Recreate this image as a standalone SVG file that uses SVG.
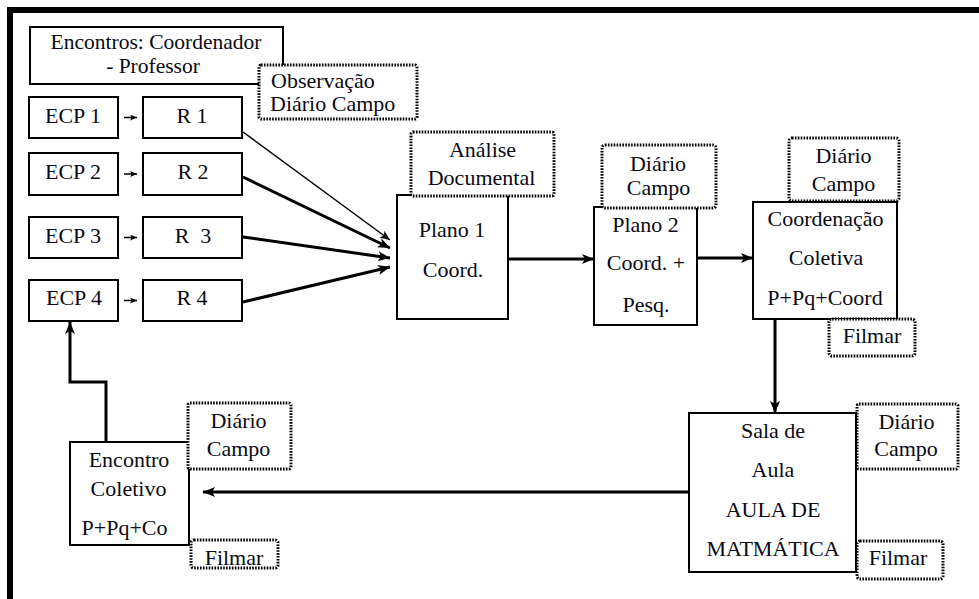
<svg xmlns="http://www.w3.org/2000/svg" width="979" height="599" viewBox="0 0 979 599">
<style>
.box{fill:#fff;stroke:#000;stroke-width:2}
.dot{fill:#fff;stroke:#000;stroke-width:3;stroke-dasharray:1.6 1.3}
.thick{stroke:#000;stroke-width:3;fill:none}
.thin{stroke:#000;stroke-width:1.5;fill:none}
</style>
<defs>
<marker id="big" viewBox="0 0 12 10" refX="12" refY="5" markerWidth="12" markerHeight="10" markerUnits="userSpaceOnUse" orient="auto">
<path d="M0,0 L12,5 L0,10 L3,5 z" fill="#000"/>
</marker>
<marker id="mid" viewBox="0 0 12 10" refX="12" refY="5" markerWidth="10" markerHeight="9" markerUnits="userSpaceOnUse" orient="auto">
<path d="M0,0 L12,5 L0,10 L3,5 z" fill="#000"/>
</marker>
<marker id="sm" viewBox="0 0 12 10" refX="12" refY="5" markerWidth="7" markerHeight="6" markerUnits="userSpaceOnUse" orient="auto">
<path d="M0,0 L12,5 L0,10 L3,5 z" fill="#000"/>
</marker>
</defs>
<rect width="979" height="599" fill="#fff"/>
<path d="M10,599 V10 H979" fill="none" stroke="#000" stroke-width="6"/>

<g font-family="Liberation Serif, Times New Roman, serif" font-size="22" fill="#0a0a14" text-anchor="middle">
<g id="encontros">
<rect class="box" x="30" y="27" width="253" height="57"/>
<text x="156" y="49" font-size="21.5">Encontros: Coordenador</text>
<text x="153" y="73" font-size="21.5">- Professor</text>
</g>
<g id="observacao">
<rect class="dot" x="259" y="65" width="158" height="54" rx="2"/>
<text x="271" y="88" text-anchor="start">Observação</text>
<text x="270" y="111" text-anchor="start">Diário Campo</text>
</g>

<g id="ecp1"><rect class="box" x="29" y="97" width="89" height="41"/><text x="73" y="123">ECP 1</text></g>
<g id="ecp2"><rect class="box" x="29" y="153" width="89" height="42"/><text x="73" y="179">ECP 2</text></g>
<g id="ecp3"><rect class="box" x="29" y="217" width="89" height="41"/><text x="73" y="243">ECP 3</text></g>
<g id="ecp4"><rect class="box" x="29" y="280" width="89" height="41"/><text x="74" y="305">ECP 4</text></g>

<g id="r1"><rect class="box" x="143" y="97" width="99" height="41"/><text x="192" y="123">R 1</text></g>
<g id="r2"><rect class="box" x="143" y="153" width="99" height="42"/><text x="193" y="179">R 2</text></g>
<g id="r3"><rect class="box" x="143" y="217" width="99" height="41"/><text x="193" y="243" xml:space="preserve">R  3</text></g>
<g id="r4"><rect class="box" x="143" y="280" width="99" height="41"/><text x="192" y="305">R 4</text></g>

<g id="plano1">
<rect class="box" x="397" y="195" width="111" height="124"/>
<text x="452" y="237">Plano 1</text>
<text x="453" y="277">Coord.</text>
</g>
<g id="analise">
<rect class="dot" x="411" y="132" width="143" height="64" rx="2"/>
<text x="482.5" y="157">Análise</text>
<text x="481.5" y="185">Documental</text>
</g>

<g id="plano2">
<rect class="box" x="594" y="207" width="103" height="118"/>
<text x="645.5" y="232">Plano 2</text>
<text x="646" y="270">Coord. +</text>
<text x="646" y="312">Pesq.</text>
</g>
<g id="diario2">
<rect class="dot" x="602" y="145" width="114" height="63" rx="3"/>
<text x="658" y="171">Diário</text>
<text x="658.5" y="195">Campo</text>
</g>

<g id="coordenacao">
<rect class="box" x="753" y="202" width="144" height="117"/>
<text x="825.5" y="226">Coordenação</text>
<text x="826" y="265">Coletiva</text>
<text x="825" y="305">P+Pq+Coord</text>
</g>
<g id="diario3">
<rect class="dot" x="789" y="138" width="110" height="63" rx="3"/>
<text x="843.5" y="163">Diário</text>
<text x="843.5" y="191">Campo</text>
</g>
<g id="filmar3">
<rect class="dot" x="829" y="319" width="86" height="37" rx="3"/>
<text x="872" y="343">Filmar</text>
</g>

<g id="sala">
<rect class="box" x="689" y="413" width="167" height="159"/>
<text x="773" y="438">Sala de</text>
<text x="773" y="477">Aula</text>
<text x="773" y="517">AULA DE</text>
<text x="773" y="556">MATMÁTICA</text>
</g>
<g id="diario4">
<rect class="dot" x="857" y="404" width="101" height="65" rx="2"/>
<text x="906.5" y="429">Diário</text>
<text x="906" y="456">Campo</text>
</g>
<g id="filmar4">
<rect class="dot" x="857" y="541" width="86" height="38" rx="3"/>
<text x="898" y="565">Filmar</text>
</g>

<g id="encontro-coletivo">
<rect class="box" x="70" y="442" width="119" height="103"/>
<text x="129" y="467">Encontro</text>
<text x="128.5" y="496">Coletivo</text>
<text x="124.5" y="535">P+Pq+Co</text>
</g>
<g id="diario5">
<rect class="dot" x="188" y="403" width="103" height="66" rx="2"/>
<text x="238.5" y="428">Diário</text>
<text x="238.5" y="456">Campo</text>
</g>
<g id="filmar5">
<rect class="dot" x="191" y="540" width="87" height="28" rx="3"/>
<text x="234" y="565">Filmar</text>
</g>
</g>

<g id="connectors">
<line class="thin" x1="124" y1="117.5" x2="137" y2="117.5" marker-end="url(#sm)"/>
<line class="thin" x1="124" y1="174" x2="137" y2="174" marker-end="url(#sm)"/>
<line class="thin" x1="124" y1="237.5" x2="137" y2="237.5" marker-end="url(#sm)"/>
<line class="thin" x1="124" y1="300.5" x2="137" y2="300.5" marker-end="url(#sm)"/>
<line class="thin" x1="243" y1="132" x2="390" y2="240" marker-end="url(#mid)"/>
<line class="thick" x1="243" y1="177" x2="390" y2="248" marker-end="url(#big)"/>
<line class="thick" x1="243" y1="237" x2="390" y2="258" marker-end="url(#big)"/>
<line class="thick" x1="243" y1="302" x2="390" y2="267" marker-end="url(#big)"/>
<line class="thick" x1="508" y1="259" x2="594" y2="259" marker-end="url(#big)"/>
<line class="thick" x1="697" y1="258" x2="753" y2="258" marker-end="url(#big)"/>
<line class="thick" x1="775" y1="320" x2="775" y2="413" marker-end="url(#big)"/>
<line class="thick" x1="689" y1="492" x2="203" y2="492" marker-end="url(#big)"/>
<path class="thick" d="M106,442 V382 H70 V322" marker-end="url(#big)"/>
</g>
</svg>
